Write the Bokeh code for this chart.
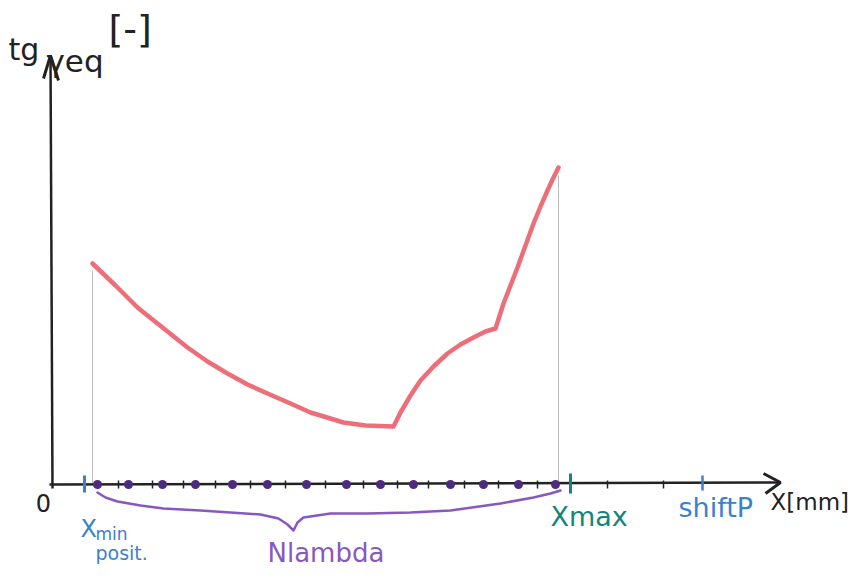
from bokeh.plotting import figure
from bokeh.models import Range1d
from bokeh.core.properties import value
from bokeh.embed import file_html
from bokeh.resources import INLINE

# ---- data (x in mm-like sketch units, y = tg gamma_eq) ----
curve_x = [4.0, 6.3, 8.5, 11.0, 13.5, 15.5, 17.5, 19.5, 21.5, 23.8, 25.8, 27.8, 29.1, 31.3, 34.1,
           34.8, 35.8, 36.8, 38.1, 39.5, 40.8, 42.1, 43.3, 44.3,
           45.1, 45.8, 46.5, 47.3, 48.1, 48.8, 49.5, 50.1, 50.6]
curve_y = [22.1, 19.9, 17.7, 15.7, 13.7, 12.3, 11.1, 10.0, 9.1, 8.1, 7.2, 6.6, 6.2, 5.9, 5.8,
           7.2, 8.9, 10.4, 11.8, 13.1, 14.0, 14.7, 15.3, 15.6,
           18.1, 19.9, 21.7, 23.9, 26.1, 27.8, 29.4, 30.7, 31.7]

lambda_x = [4.5, 7.6, 11.0, 14.3, 18.0, 21.5, 25.4, 29.4, 32.8, 36.1, 39.8, 43.1, 46.6, 50.3]
minor_ticks = [6.6, 10.0, 13.1, 16.3, 19.8, 23.3, 27.3, 31.1, 34.5, 37.6, 41.2, 44.6, 48.5, 55.5, 61.1]

x_min_pos = 3.2
x_max_pos = 51.8
shift_p = 65.0

brace_x = [4.5, 5.3, 6.5, 8.8, 11.1, 14.8, 17.8, 20.8, 22.6, 23.5, 24.1, 24.5, 25.1, 27.8,
           31.5, 35.8, 39.8, 44.8, 48.1, 49.8, 50.8]
brace_y = [-0.8, -1.3, -1.7, -2.1, -2.4, -2.6, -2.8, -3.0, -3.4, -4.0, -4.6, -3.8, -3.3, -2.9,
           -2.9, -2.8, -2.6, -1.9, -1.3, -0.9, -0.6]

BLACK = "#222222"
RED = "#ea5e69"
PURPLE_DOT = "#4c2b80"
PURPLE = "#8857c0"
BLUE = "#3b7fcf"
TEAL = "#14857a"
FONT = value("DejaVu Sans")

p = figure(width=850, height=570, x_range=Range1d(-5.2, 79.8), y_range=Range1d(-8.6, 48.4),
           output_backend="svg", toolbar_location=None, min_border=0,
           x_axis_location=None, y_axis_location=None)
p.grid.visible = False
p.outline_line_color = None

# thin gray guides at the curve ends
p.segment(x0=[curve_x[0], curve_x[-1]], y0=[0, 0], x1=[curve_x[0], curve_x[-1]],
          y1=[curve_y[0] - 0.7, curve_y[-1] - 0.8], line_color="#bdbdbd", line_width=1)

# axes (hand-drawn style arrows)
p.line(x=[-0.3, 72.8], y=[0, 0.2], line_color=BLACK, line_width=2.5)
p.multi_line(xs=[[71.1, 72.8, 71.3]], ys=[[1.1, 0.2, -0.9]], line_color=BLACK, line_width=3)
p.line(x=[0.0, -0.2], y=[-0.4, 42.9], line_color=BLACK, line_width=2.5)
p.multi_line(xs=[[-0.9, -0.2, 0.6]], ys=[[40.6, 42.9, 40.4]], line_color=BLACK, line_width=3)

# minor ticks
p.segment(x0=minor_ticks, y0=[-0.4] * len(minor_ticks), x1=minor_ticks, y1=[0.4] * len(minor_ticks),
          line_color=BLACK, line_width=1.5)

# special ticks
p.segment(x0=[x_min_pos], y0=[-0.8], x1=[x_min_pos], y1=[0.9], line_color=BLUE, line_width=3)
p.segment(x0=[x_max_pos], y0=[-0.9], x1=[x_max_pos], y1=[1.1], line_color=TEAL, line_width=3)
p.segment(x0=[shift_p], y0=[-0.6], x1=[shift_p], y1=[0.9], line_color=BLUE, line_width=2.5)

# the curve
p.line(x=curve_x, y=curve_y, line_color=RED, line_width=4.5, line_alpha=0.9,
       line_join="round", line_cap="round")

# lambda positions
p.scatter(x=lambda_x, y=[0] * len(lambda_x), size=9, fill_color=PURPLE_DOT, line_color=None)

# brace
p.line(x=brace_x, y=brace_y, line_color=PURPLE, line_width=2.5, line_join="round", line_cap="round")

def txt(x, y, s, color, size, align="left", baseline="alphabetic"):
    p.text(x=[x], y=[y], text=[s], text_color=color, text_font=FONT,
           text_font_size=f"{size}px", text_align=align, text_baseline=baseline)

txt(-4.4, 43.5, "tg", BLACK, 30)
txt(-0.6, 42.4, "γeq", BLACK, 31)
txt(5.6, 47.8, "[-]", BLACK, 38, baseline="top")
txt(-0.9, -1.8, "0", BLACK, 24, align="center", baseline="middle")
txt(2.8, -4.4, "X", BLUE, 24)
txt(4.3, -4.9, "min", BLUE, 17)
txt(4.3, -6.8, "posit.", BLUE, 19)
txt(21.5, -5.3, "Nlambda", PURPLE, 26, baseline="top")
txt(49.8, -1.6, "Xmax", TEAL, 27, baseline="top")
txt(62.6, -0.7, "shiftP", BLUE, 27, baseline="top")
txt(71.8, -0.4, "X[mm]", BLACK, 23, baseline="top")

open("out.html", "w").write(file_html(p, INLINE))
